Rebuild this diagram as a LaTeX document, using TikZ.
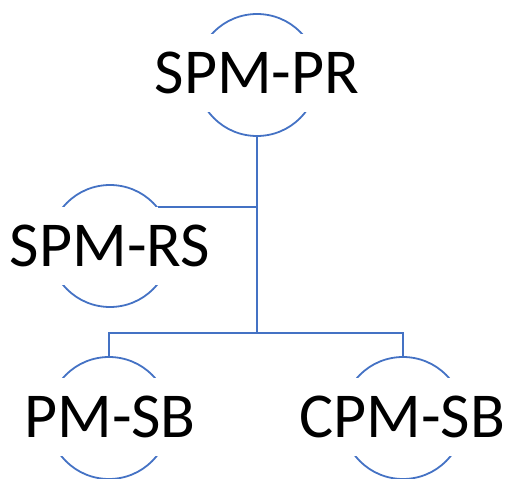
\documentclass[tikz,border=0pt]{standalone}
\usepackage{fontspec}
\setmainfont{Carlito}
\definecolor{lineblue}{HTML}{4472C4}
\begin{document}
\begin{tikzpicture}[x=1pt,y=-1pt,
  circ/.style={circle,draw=lineblue,line width=1.8pt,minimum size=122pt,inner sep=0pt},
  lab/.style={fill=white,inner sep=0pt,minimum height=78pt,text height=40.5pt,text depth=0pt,
    font=\fontsize{64}{70}\selectfont},
  conn/.style={draw=lineblue,line width=1.8pt}]
\useasboundingbox (0,0) rectangle (507,479);
\node[circ] (pr) at (257,75) {};
\node[circ] (rs) at (110,246) {};
\node[circ] (pm) at (109,418) {};
\node[circ] (cpm) at (403,418) {};
\node[lab] (prl) at (257,73) {SPM-PR};
\node[lab] (rsl) at (rs) {SPM-RS};
\node[lab] (pml) at (110,417) {PM-SB};
\node[lab] (cpml) at (402,417) {CPM-SB};
\coordinate (bus) at (257,333);
\draw[conn] (pr.south) -- (bus);
\draw[conn] (rs.39) -- (rs.39 -| pr.south);
\draw[conn] (pm.north) -- (pm.north |- bus) -- (cpm.north |- bus) -- (cpm.north);
\end{tikzpicture}
\end{document}
